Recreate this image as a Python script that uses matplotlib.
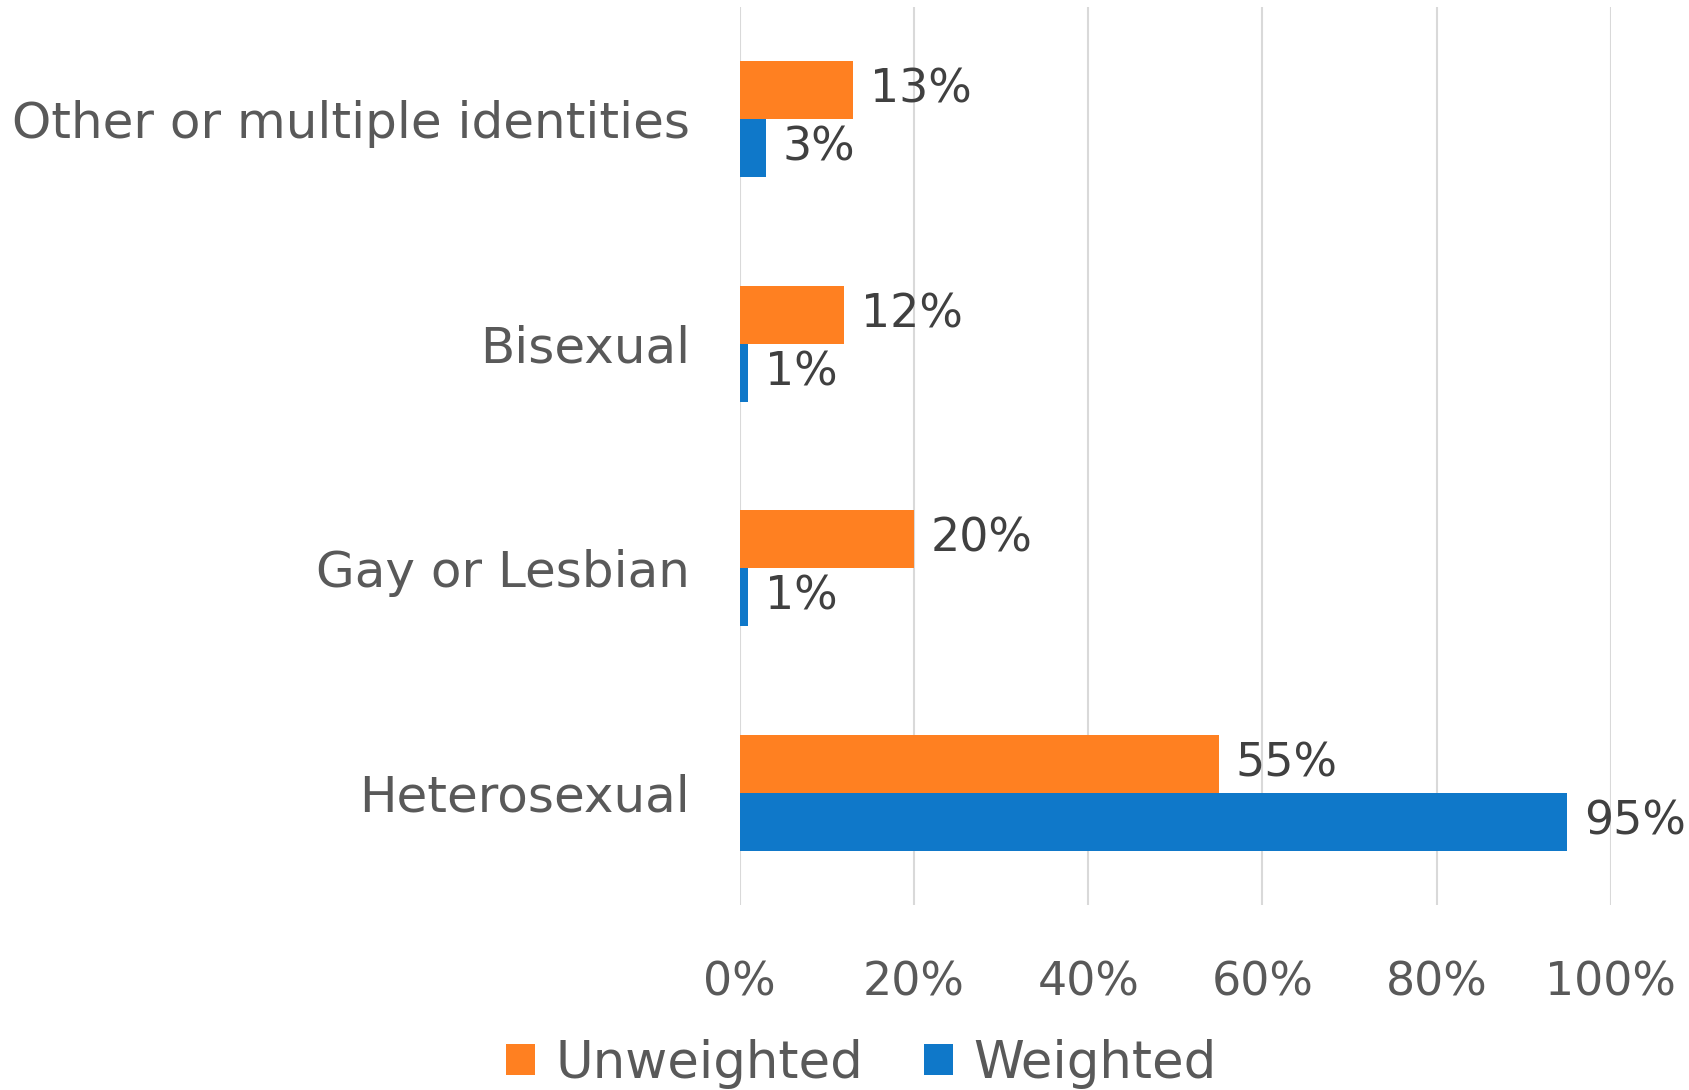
import matplotlib
matplotlib.use("Agg")
import matplotlib.pyplot as plt
import numpy as np
from matplotlib.ticker import FuncFormatter

categories = ["Heterosexual", "Gay or Lesbian", "Bisexual", "Other or multiple identities"]
unweighted = [55, 20, 12, 13]
weighted = [95, 1, 1, 3]
xticks = [0, 20, 40, 60, 80, 100]

orange = "#FF8021"
blue = "#0F78C9"
label_gray = "#595959"
value_gray = "#404040"

plt.rcParams['font.family'] = ['DejaVu Sans']

fig = plt.figure(figsize=(16.89, 10.90), dpi=100)
ax = fig.add_axes([0.438, 0.1697, 0.5157, 0.8239])

y = np.arange(len(categories))
h = 0.258
b1 = ax.barh(y + h / 2, unweighted, height=h, color=orange, label="Unweighted", zorder=3)
b2 = ax.barh(y - h / 2, weighted, height=h, color=blue, label="Weighted", zorder=3)

for bars, vals in ((b1, unweighted), (b2, weighted)):
    for rect, v in zip(bars, vals):
        ax.annotate(f"{v}%", xy=(rect.get_width(), rect.get_y() + rect.get_height() / 2),
                    xytext=(12, 0), textcoords="offset points", va="center", ha="left",
                    fontsize=33, color=value_gray)

ax.set_xlim(0, 100)
ax.set_ylim(-0.5, len(categories) - 0.5)
ax.set_xticks(xticks)
ax.xaxis.set_major_formatter(FuncFormatter(lambda v, p: f"{int(v)}%"))
ax.set_yticks(y)
ax.set_yticklabels(categories)
ax.tick_params(axis="x", labelsize=33, colors=label_gray, length=0, pad=40)
ax.tick_params(axis="y", labelsize=36, colors=label_gray, length=0, pad=36)
ax.grid(axis="x", color="#D9D9D9", linewidth=1.5, zorder=0)
for s in ax.spines.values():
    s.set_visible(False)

leg = fig.legend(handles=[b1, b2], labels=["Unweighted", "Weighted"], loc="center",
                 bbox_to_anchor=(0.51, 0.024), ncol=2, frameon=False, fontsize=37,
                 handlelength=0.55, handleheight=0.55, handletextpad=0.4, columnspacing=1.2)
for t in leg.get_texts():
    t.set_color(label_gray)

fig.savefig("out.png", dpi=100)
